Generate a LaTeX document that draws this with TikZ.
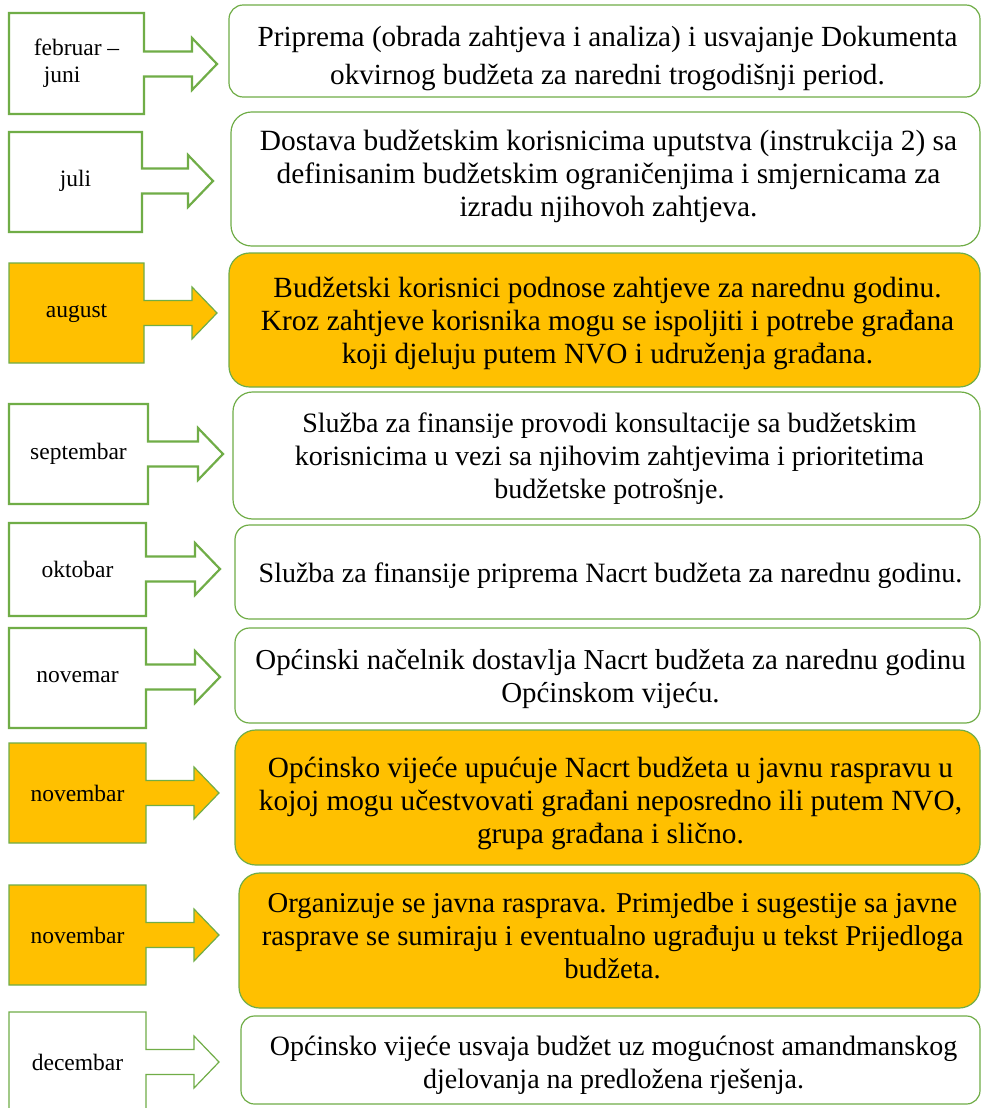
\documentclass[tikz,border=0pt]{standalone}
\usepackage{fontspec}
\setmainfont{Liberation Serif}
\definecolor{grn}{HTML}{70AD47}
\definecolor{gold}{HTML}{FFC000}
\tikzset{
  wbox/.style={fill=white, draw=grn, line width=2.2pt, line join=miter},
  wboxthin/.style={fill=white, draw=grn, line width=1.2pt, line join=miter},
  obox/.style={fill=gold, draw=grn, line width=1.2pt, line join=miter},
  rwhite/.style={fill=white, draw=grn, line width=1.2pt},
  rgold/.style={fill=gold, draw=grn, line width=1.2pt},
  month/.style={font=\fontsize{23.5}{27}\selectfont, align=center, inner sep=0pt},
  body/.style={align=center, inner sep=0pt},
}
% #1 style, #2 right x, #3 top y, #4 bottom y, #5 head x, #6 tip y, #7 label, #8 name
\newcommand\arrowbox[8]{%
  \draw[#1] (9,#3) -- (#2,#3) -- (#2,#6-12.5) -- (#5,#6-12.5) -- (#5,#6-26)
    -- (#5+25,#6) -- (#5,#6+26) -- (#5,#6+12.5) -- (#2,#6+12.5) -- (#2,#4)
    -- (9,#4) -- cycle;
  \node[month] (#8) at ({(9+#2)/2},#6) {#7};}
% #1 style, #2 left x, #3 top y, #4 bottom y, #5 text y, #6 text, #7 name, #8 font size
\newcommand\stepbox[8]{%
  \pgfmathsetmacro\rr{(#4-#3)/6.5}%
  \draw[#1, rounded corners=\rr pt] (#2,#3) rectangle (980,#4);
  \node[body, font=\fontsize{#8}{33}\selectfont] (#7) at ({(#2+980)/2+3},#5) {#6};}
\begin{document}
\begin{tikzpicture}[x=1pt,y=-1pt]
\useasboundingbox (0,0) rectangle (981,1108);
\clip (0,0) rectangle (981,1108);
\fill[white] (0,0) rectangle (981,1108);

\arrowbox{wbox}{144}{13}{114}{192}{64}{\begin{tabular}{@{}l@{}}februar –\\\hspace*{10pt}juni\end{tabular}}{m1}
\arrowbox{wbox}{142}{132}{232}{188}{181}{juli}{m2}
\arrowbox{obox}{144}{263}{363}{192}{313}{august}{m3}
\arrowbox{wbox}{148}{404}{504}{198}{454}{septembar}{m4}
\arrowbox{wbox}{146}{523}{616}{195}{569}{oktobar}{m5}
\arrowbox{wbox}{146}{628}{728}{195}{677}{novemar}{m6}
\arrowbox{obox}{146}{743}{843}{194}{793}{novembar}{m7}
\arrowbox{obox}{146}{885}{985}{194}{935}{novembar}{m8}
\arrowbox{wboxthin}{146}{1012}{1130}{194}{1062}{decembar}{m9}

\stepbox{rwhite}{229}{5}{97}{59}{Priprema (obrada zahtjeva i analiza) i usvajanje Dokumenta\\[5pt]okvirnog budžeta za naredni trogodišnji period.}{s1}{29.2}
\stepbox{rwhite}{231}{112}{246}{176}{Dostava budžetskim korisnicima uputstva (instrukcija 2) sa\\definisanim budžetskim ograničenjima i smjernicama za\\izradu njihovoh zahtjeva.}{s2}{29.4}
\stepbox{rgold}{229}{253}{387}{323}{Budžetski korisnici podnose zahtjeve za narednu godinu.\\Kroz zahtjeve korisnika mogu se ispoljiti i potrebe građana\\koji djeluju putem NVO i udruženja građana.}{s3}{29.3}
\stepbox{rwhite}{233}{392}{519}{459}{Služba za finansije provodi konsultacije sa budžetskim\\korisnicima u vezi sa njihovim zahtjevima i prioritetima\\budžetske potrošnje.}{s4}{28}
\stepbox{rwhite}{235}{525}{619}{576}{Služba za finansije priprema Nacrt budžeta za narednu godinu.}{s5}{28}
\stepbox{rwhite}{235}{628}{723}{679}{Općinski načelnik dostavlja Nacrt budžeta za narednu godinu\\Općinskom vijeću.}{s6}{28.9}
\stepbox{rgold}{235}{730}{865}{803}{Općinsko vijeće upućuje Nacrt budžeta u javnu raspravu u\\kojoj mogu učestvovati građani neposredno ili putem NVO,\\grupa građana i slično.}{s7}{29.3}
\stepbox{rgold}{239}{873}{1008}{936}{Organizuje se javna rasprava. Primjedbe i sugestije sa javne\\rasprave se sumiraju i eventualno ugrađuju u tekst Prijedloga\\budžeta.}{s8}{28.7}
\stepbox{rwhite}{241}{1016}{1104}{1065}{Općinsko vijeće usvaja budžet uz mogućnost amandmanskog\\djelovanja na predložena rješenja.}{s9}{28}
\end{tikzpicture}
\end{document}
